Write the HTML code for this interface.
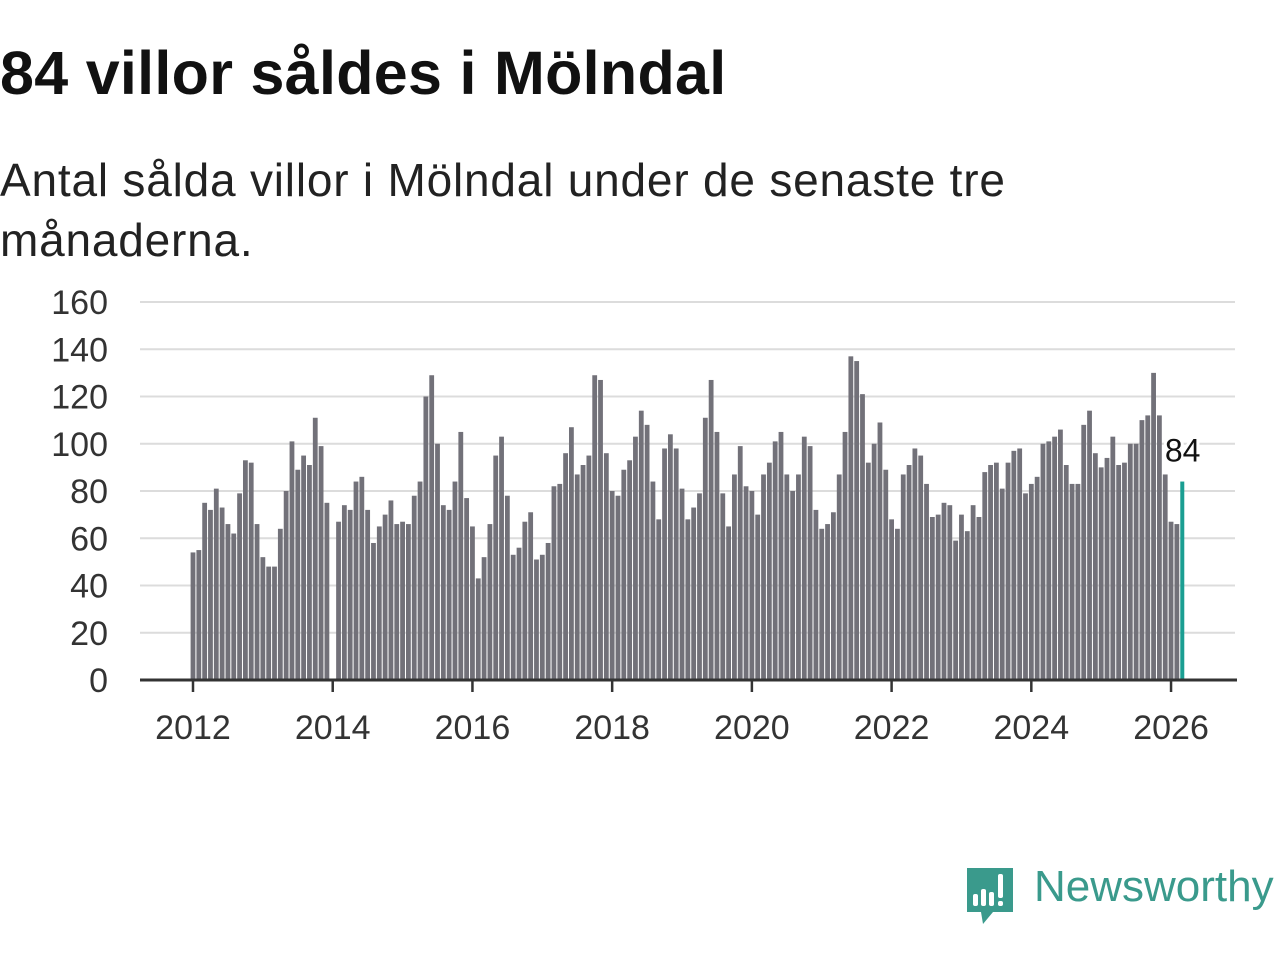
<!DOCTYPE html>
<html><head><meta charset="utf-8">
<style>
body{margin:0;background:#fff;width:1280px;height:960px;overflow:hidden;font-family:"Liberation Sans",sans-serif;}
#title{position:absolute;left:0;top:38px;font-size:61px;font-weight:bold;color:#111;margin:0;letter-spacing:0.3px}
#sub{position:absolute;left:0;top:150px;font-size:46px;color:#222;line-height:60px;width:1080px;letter-spacing:0.8px}
svg{position:absolute;left:0;top:0}
</style></head><body>
<h1 id="title">84 villor såldes i Mölndal</h1>
<div id="sub">Antal sålda villor i Mölndal under de senaste tre månaderna.</div>
<svg id="chart" width="1280" height="960"></svg>
<svg width="60" height="70" style="left:963px;top:864px">
<path d="M4 4 H50 V48 H30 L20 60 L18 48 H4 Z" fill="#3a9a8c"/>
<rect x="10" y="30" width="5" height="12" rx="2" fill="#fff"/><rect x="18" y="25" width="5" height="17" rx="2" fill="#fff"/><rect x="26" y="28" width="5" height="14" rx="2" fill="#fff"/><rect x="35" y="10" width="5" height="24" rx="2" fill="#fff"/><rect x="35" y="37" width="5" height="5" rx="2" fill="#fff"/>
</svg>
<div style="position:absolute;left:1034px;top:862px;font-size:44px;color:#3a9a8c;font-weight:500">Newsworthy</div>
<script>
const years=[2012,2014,2016,2018,2020,2022,2024,2026];
const yTicks=[0,20,40,60,80,100,120,140,160];
const values=[
54,55,75,72,81,73,66,62,79,93,92,66,
52,48,48,64,80,101,89,95,91,111,99,75,
null,67,74,72,84,86,72,58,65,70,76,66,
67,66,78,84,120,129,100,74,72,84,105,77,
65,43,52,66,95,103,78,53,56,67,71,51,
53,58,82,83,96,107,87,91,95,129,127,96,
80,78,89,93,103,114,108,84,68,98,104,98,
81,68,73,79,111,127,105,79,65,87,99,82,
80,70,87,92,101,105,87,80,87,103,99,72,
64,66,71,87,105,137,135,121,92,100,109,89,
68,64,87,91,98,95,83,69,70,75,74,59,
70,63,74,69,88,91,92,81,92,97,98,79,
83,86,100,101,103,106,91,83,83,108,114,96,
90,94,103,91,92,100,100,110,112,130,112,87,
67,66,84];
const ns="http://www.w3.org/2000/svg";
const svg=document.getElementById('chart');
const x0=193,pxYear=69.86,y0=680,pxUnit=378/160;
const xs=i=>x0+i*pxYear/12;
const xYear=yr=>x0+(yr-2012)*pxYear;
const ys=v=>y0-v*pxUnit;
function mk(t,a){const e=document.createElementNS(ns,t);for(const k in a)e.setAttribute(k,a[k]);svg.appendChild(e);return e;}
yTicks.forEach(t=>{
 if(t>0){const g=mk('line',{x1:140,x2:1235,y1:ys(t),y2:ys(t),stroke:'#dcdcdc','stroke-width':2});
 
 }
 const l=mk('text',{x:108,y:ys(t)+12,'text-anchor':'end','font-size':34,fill:'#333','font-family':'Liberation Sans, sans-serif'});
 l.textContent=t;
 
 
});
values.forEach((v,i)=>{
 if(v==null)return;
 const last=i===values.length-1;
 const r=mk('rect',{x:xs(i)-2.4,y:ys(v),width:last?4:4.8,height:y0-ys(v),fill:last?'#1a9e92':'#727179'});
 
 
});
const ax=mk('line',{x1:140,x2:1237,y1:y0,y2:y0,stroke:'#333','stroke-width':3});


years.forEach(yr=>{
 const x=xYear(yr);
 const tk=mk('line',{x1:x,x2:x,y1:y0,y2:y0+12,stroke:'#333','stroke-width':2.5});
 
 
 const l=mk('text',{x:x,y:739,'text-anchor':'middle','font-size':34,fill:'#333','font-family':'Liberation Sans, sans-serif'});
 l.textContent=yr;
 
 
});
const li=values.length-1;
const lab=mk('text',{x:xs(li),y:ys(values[li])-20,'text-anchor':'middle','font-size':32,fill:'#111',stroke:'#fff','stroke-width':6,'paint-order':'stroke','font-family':'Liberation Sans, sans-serif'});
lab.textContent=values[li];


</script>
</body></html>
